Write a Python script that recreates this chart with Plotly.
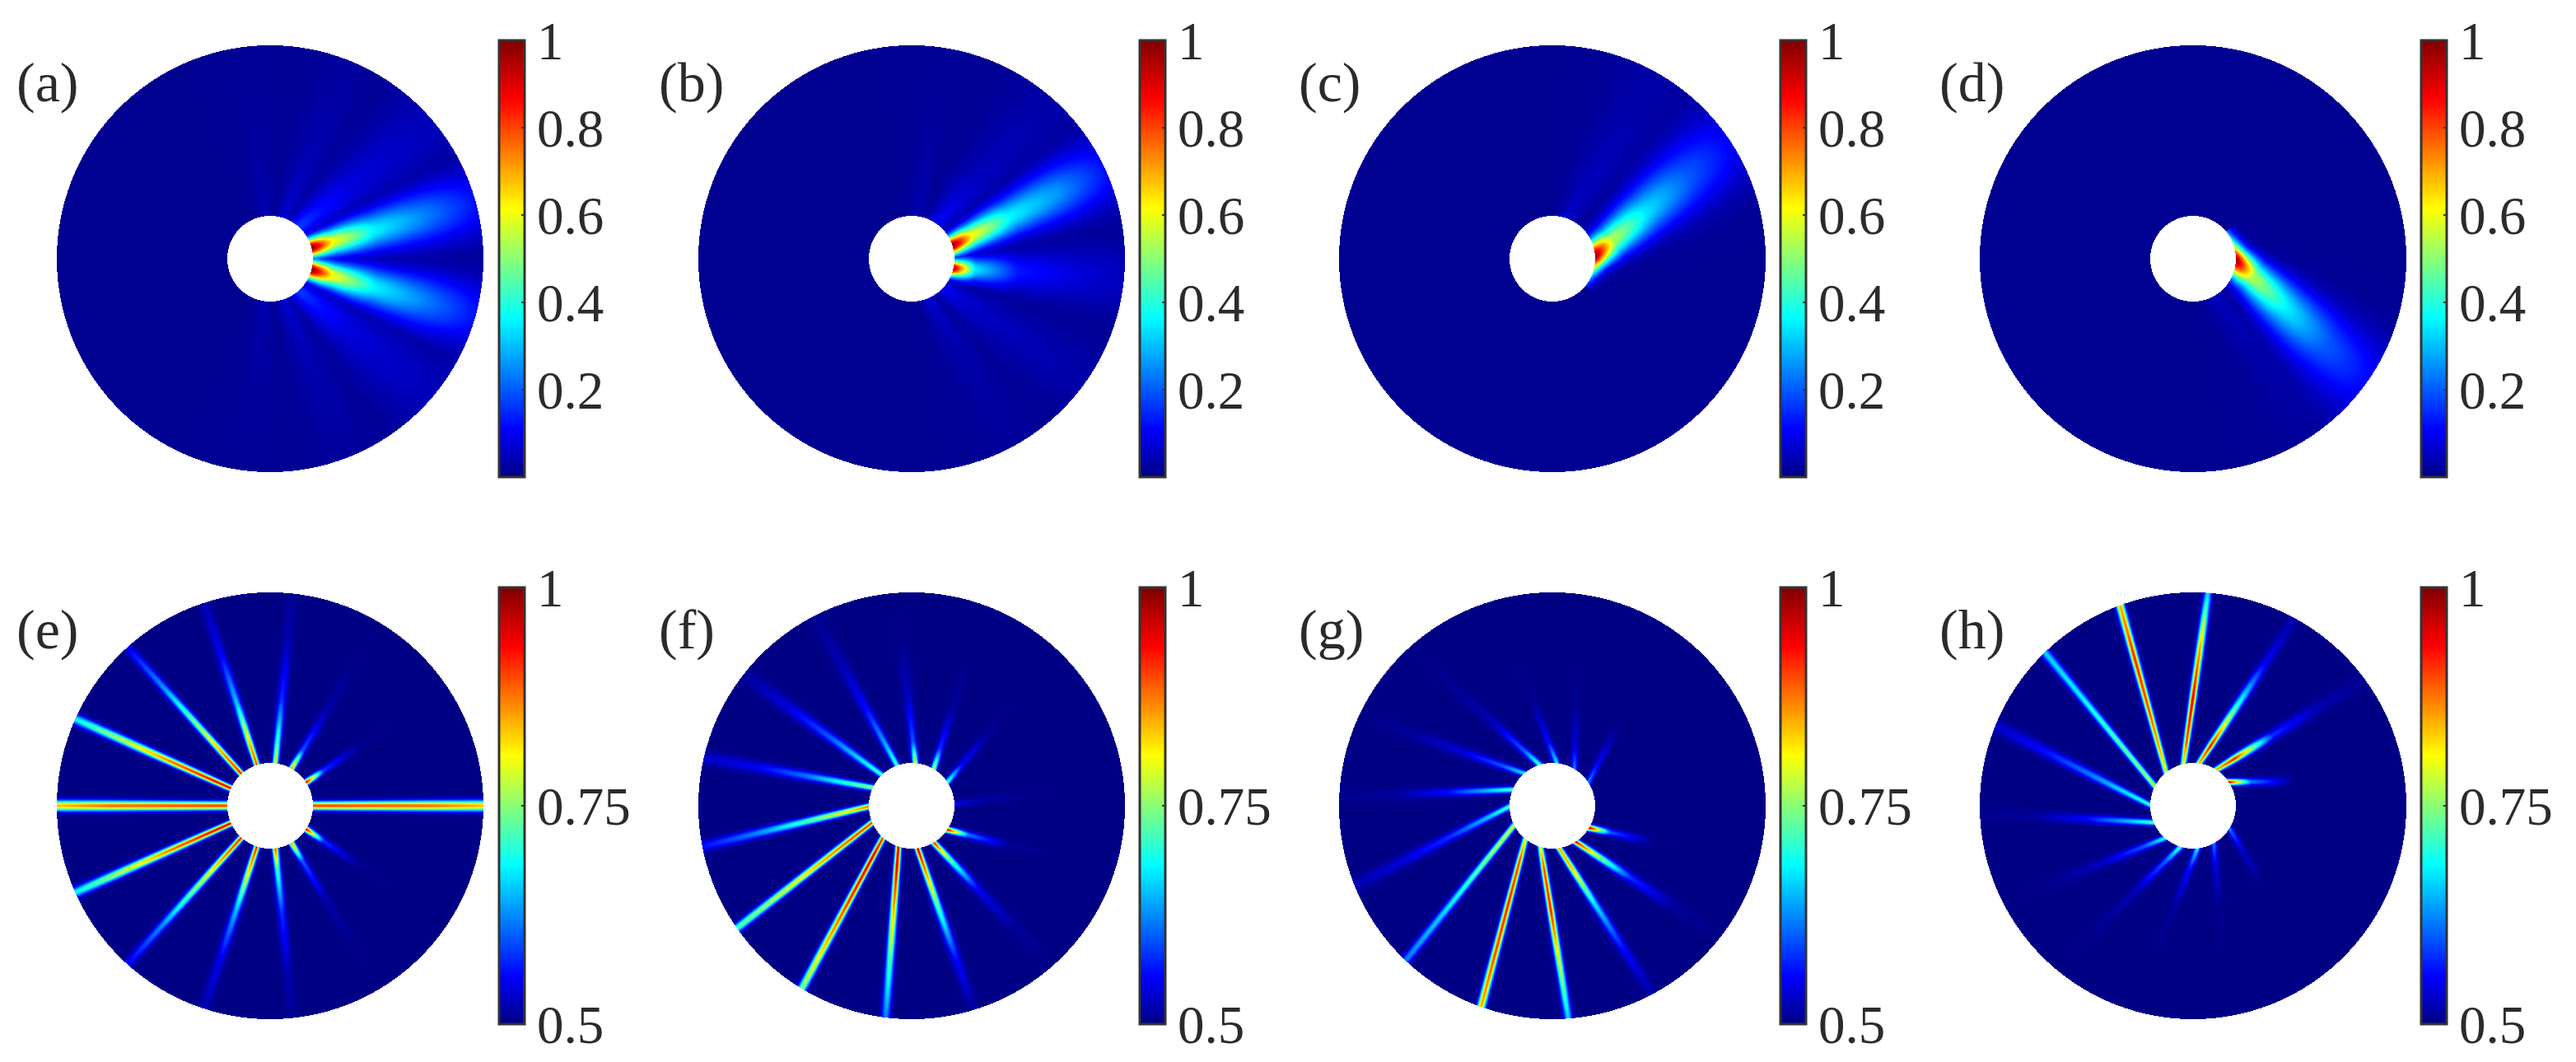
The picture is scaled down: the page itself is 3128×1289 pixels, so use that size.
import numpy as np
import plotly.graph_objects as go

W = 3128
H = 1289
R = 259
HOLE = 52

panel_names = ["a", "b", "c", "d", "e", "f", "g", "h"]
panel_cx = [328, 1106.5, 1885, 2663, 328, 1106.5, 1885, 2663]
panel_cy = [314, 314, 314, 314, 978, 978, 978, 978]
bar_left = [606, 1384, 2162, 2940, 606, 1384, 2162, 2940]
label_left = [18, 798, 1575, 2353, 18, 798, 1575, 2353]

radius_stops = [0.2, 0.3, 0.5, 0.75, 1.0]

# angle at the hole edge, angle at the rim (degrees), strength at radius_stops,
# half width at the hole edge and at the rim (px)
a_in = [15, -15, 48, -48, 72, -72, 98, -98]
a_out = [15.5, -15.5, 40, -40, 68, -68, 95, -95]
a_peak = [[1.0, 0.62, 0.36, 0.24, 0.12], [1.0, 0.62, 0.36, 0.24, 0.12],
          [0.17, 0.13, 0.08, 0.06, 0.045], [0.17, 0.13, 0.08, 0.06, 0.045],
          [0.07, 0.055, 0.04, 0.03, 0.02], [0.07, 0.055, 0.04, 0.03, 0.02],
          [0.04, 0.035, 0.025, 0.02, 0.015], [0.04, 0.035, 0.025, 0.02, 0.015]]
a_sig_in = [8, 8, 8, 8, 6, 6, 6, 6]
a_sig_out = [30, 30, 40, 40, 32, 32, 28, 28]

b_in = [18, -13, 55, -42, -68, 85]
b_out = [25, -5, 48, -35, -60, 80]
b_peak = [[1.0, 0.62, 0.36, 0.26, 0.12], [0.95, 0.35, 0.13, 0.08, 0.05],
          [0.1, 0.085, 0.05, 0.04, 0.03], [0.1, 0.07, 0.05, 0.04, 0.03],
          [0.07, 0.05, 0.035, 0.025, 0.02], [0.04, 0.035, 0.025, 0.02, 0.015]]
b_sig_in = [8, 7, 8, 8, 6, 6]
b_sig_out = [30, 30, 40, 36, 32, 28]

c_in = [5, 70]
c_out = [34, 60]
c_peak = [[0.98, 0.55, 0.34, 0.2, 0.1], [0.06, 0.05, 0.045, 0.035, 0.03]]
c_sig_in = [11, 8]
c_sig_out = [36, 40]

d_in = [-3, -62]
d_out = [-36, -52]
d_peak = [[0.98, 0.55, 0.36, 0.2, 0.11], [0.05, 0.045, 0.035, 0.03, 0.02]]
d_sig_in = [11, 8]
d_sig_out = [36, 40]

e_in = [0, 33, 60, 83, 108, 132, 156, 180, -33, -60, -83, -108, -132, -156]
e_out = [0, 34, 59, 84, 108, 132, 156, 180, -34, -59, -84, -108, -132, -156]
e_peak = [[0.9, 0.9, 0.89, 0.88, 0.84], [0.95, 0.58, 0.505, 0.5, 0.5],
          [0.87, 0.6, 0.52, 0.503, 0.5], [0.8, 0.72, 0.58, 0.525, 0.505],
          [0.9, 0.85, 0.66, 0.55, 0.52], [0.92, 0.88, 0.76, 0.63, 0.55],
          [0.94, 0.93, 0.88, 0.78, 0.68], [0.9, 0.9, 0.89, 0.88, 0.84],
          [0.95, 0.58, 0.505, 0.5, 0.5], [0.87, 0.6, 0.52, 0.503, 0.5],
          [0.9, 0.72, 0.58, 0.525, 0.505], [0.92, 0.85, 0.66, 0.55, 0.52],
          [0.92, 0.88, 0.76, 0.63, 0.55], [0.94, 0.93, 0.88, 0.78, 0.68]]
e_sig_in = [3.4, 2.4, 2.4, 2.4, 2.4, 2.4, 2.4, 3.4, 2.4, 2.4, 2.4, 2.4, 2.4, 2.4]
e_sig_out = [4.4, 6.5, 6.5, 5.5, 5, 4, 4.2, 4.4, 6.5, 6.5, 5.5, 5, 4, 4.2]

f_in = [155, 134, 110, 85, 59, 33.5, 2, -34, -59, -82, -108, -132, -157, -179]
f_out = [167, 142, 117, 94, 70, 47, 7, -18, -49, -73, -97, -121, -145, -169]
f_peak = [[0.76, 0.72, 0.62, 0.55, 0.53], [0.72, 0.68, 0.6, 0.54, 0.51],
          [0.72, 0.65, 0.56, 0.52, 0.505], [0.8, 0.6, 0.53, 0.505, 0.5],
          [0.78, 0.58, 0.51, 0.5, 0.5], [0.72, 0.56, 0.505, 0.5, 0.5],
          [0.55, 0.52, 0.505, 0.5, 0.5], [0.95, 0.62, 0.505, 0.5, 0.5],
          [0.92, 0.75, 0.55, 0.51, 0.5], [0.95, 0.88, 0.72, 0.56, 0.51],
          [0.95, 0.95, 0.85, 0.72, 0.62], [0.9, 0.95, 0.92, 0.85, 0.75],
          [0.9, 0.9, 0.85, 0.78, 0.72], [0.88, 0.82, 0.72, 0.62, 0.56]]
f_sig_out = [6, 7, 7, 7, 7, 7, 7, 7, 7, 5, 3.8, 3.6, 3.6, 4.6]

g_in = [131, 158, -179, -153, -129, -106, -81, -57, -31, 33, 59, 84, 107]
g_out = [155, 177.5, -158, -133.5, -109.5, -85.7, -62, -38, -16, 57, 83, 106, 132]
g_peak = [[0.68, 0.6, 0.54, 0.51, 0.5], [0.72, 0.66, 0.56, 0.51, 0.505],
          [0.72, 0.66, 0.58, 0.54, 0.52], [0.8, 0.78, 0.72, 0.66, 0.62],
          [0.8, 0.9, 0.92, 0.9, 0.85], [0.8, 0.9, 0.92, 0.78, 0.66],
          [0.85, 0.85, 0.68, 0.56, 0.515], [0.94, 0.8, 0.58, 0.51, 0.5],
          [0.97, 0.6, 0.503, 0.5, 0.5], [0.62, 0.55, 0.5, 0.5, 0.5],
          [0.62, 0.54, 0.505, 0.5, 0.5], [0.68, 0.56, 0.505, 0.5, 0.5],
          [0.72, 0.6, 0.52, 0.505, 0.5]]
g_sig_out = [7, 6, 6, 3.8, 3.4, 3.4, 5, 7, 7, 7, 7, 7, 7]

h_in = [103, 129, 153, 179, -157, -131, -107, -84, -61, -32, 33.5, 57, 82]
h_out = [86, 110, 134, 158, -178, -153, -130, -106, -81, -54, 7, 36.5, 61.5]
h_peak = [[0.8, 0.9, 0.95, 0.85, 0.66], [0.8, 0.85, 0.9, 0.92, 0.85],
          [0.78, 0.75, 0.72, 0.68, 0.66], [0.7, 0.68, 0.62, 0.56, 0.53],
          [0.72, 0.66, 0.56, 0.51, 0.505], [0.7, 0.6, 0.53, 0.505, 0.5],
          [0.72, 0.6, 0.52, 0.505, 0.5], [0.68, 0.56, 0.51, 0.5, 0.5],
          [0.62, 0.54, 0.505, 0.5, 0.5], [0.62, 0.54, 0.5, 0.5, 0.5],
          [0.95, 0.62, 0.5, 0.5, 0.5], [0.85, 0.92, 0.58, 0.52, 0.505],
          [0.85, 0.93, 0.72, 0.55, 0.515]]
h_sig_out = [3.4, 3.4, 3.8, 6, 6, 7, 7, 7, 7, 7, 7, 7, 5]

top_ticks = [0.2, 0.4, 0.6, 0.8, 1]
bottom_ticks = [0.5, 0.75, 1]

jet = [[0, "rgb(0,0,132)"], [0.11, "rgb(0,0,255)"], [0.365, "rgb(0,255,255)"],
       [0.615, "rgb(255,255,0)"], [0.865, "rgb(255,0,0)"], [1, "rgb(128,0,0)"]]

grid = np.arange(-R - 0.5, R + 1)
X, Y = np.meshgrid(grid, grid)
RR = np.hypot(X, Y)
stops = (np.array(radius_stops) - radius_stops[0]) / (1 - radius_stops[0])


def field(ang_in, ang_out, peak, sig_in, sig_out, floor):
    z = np.full(X.shape, floor, dtype=float)
    for i in range(len(ang_in)):
        t0 = np.radians(ang_in[i])
        t1 = np.radians(ang_out[i])
        x0, y0 = HOLE * np.cos(t0), HOLE * np.sin(t0)
        x1, y1 = R * np.cos(t1), R * np.sin(t1)
        L = np.hypot(x1 - x0, y1 - y0)
        ux, uy = (x1 - x0) / L, (y1 - y0) / L
        s = ((X - x0) * ux + (Y - y0) * uy) / L
        d = -(X - x0) * uy + (Y - y0) * ux
        amp = np.interp(s, stops, peak[i])
        amp[s < -0.15] = floor
        sig = sig_in[i] + (sig_out[i] - sig_in[i]) * np.clip(s, 0, 1)
        z = np.maximum(z, floor + (amp - floor) * np.exp(-0.5 * (d / sig) ** 2))
    z[(RR > R) | (RR < HOLE)] = np.nan
    return z.astype("float32")


fields = [
    field(a_in, a_out, a_peak, a_sig_in, a_sig_out, 0.012),
    field(b_in, b_out, b_peak, b_sig_in, b_sig_out, 0.012),
    field(c_in, c_out, c_peak, c_sig_in, c_sig_out, 0.012),
    field(d_in, d_out, d_peak, d_sig_in, d_sig_out, 0.012),
    field(e_in, e_out, e_peak, e_sig_in, e_sig_out, 0.5),
    field(f_in, f_out, f_peak, [2.4] * len(f_in), f_sig_out, 0.5),
    field(g_in, g_out, g_peak, [2.4] * len(g_in), g_sig_out, 0.5),
    field(h_in, h_out, h_peak, [2.4] * len(h_in), h_sig_out, 0.5),
]

fig = go.Figure()
font = dict(family="Liberation Serif", color="#2b2b2b", size=65)

for i in range(8):
    top_row = i < 4
    ax = "" if i == 0 else str(i + 1)
    bar_top = 49 if top_row else 713
    fig.add_trace(go.Heatmap(
        x=grid, y=grid, z=fields[i], xaxis="x" + ax, yaxis="y" + ax,
        zmin=0 if top_row else 0.5, zmax=1, colorscale=jet, hoverinfo="skip",
        colorbar=dict(
            x=bar_left[i] / W, xanchor="left", xpad=0, ypad=0,
            y=1 - bar_top / H, yanchor="top", thickness=31,
            len=530, lenmode="pixels",
            tickmode="array", tickvals=top_ticks if top_row else bottom_ticks,
            tickprefix="\u00a0\u2009", ticks="inside", ticklen=5, tickwidth=2,
            tickcolor="#333333", outlinecolor="#333333", outlinewidth=3,
            tickfont=font, tickformat="~g",
        ),
    ))
    cx = panel_cx[i]
    cy = panel_cy[i]
    fig.update_layout({
        "xaxis" + ax: dict(domain=[(cx - 260) / W, (cx + 260) / W], range=[-260, 260], visible=False),
        "yaxis" + ax: dict(domain=[1 - (cy + 260) / H, 1 - (cy - 260) / H], range=[-260, 260], visible=False),
    })
    fig.add_annotation(
        text="(" + panel_names[i] + ")", xref="paper", yref="paper",
        x=label_left[i] / W, xanchor="left",
        y=1 - (100 if top_row else 764) / H, yanchor="middle",
        showarrow=False, font=dict(family="Liberation Serif", color="#2b2b2b", size=68),
    )

fig.update_layout(
    width=W, height=H, paper_bgcolor="white", plot_bgcolor="white",
    margin=dict(l=0, r=0, t=0, b=0, autoexpand=False),
)
fig.write_html("out.html", config={"displayModeBar": False},
               post_script="document.body.style.margin='0';")
